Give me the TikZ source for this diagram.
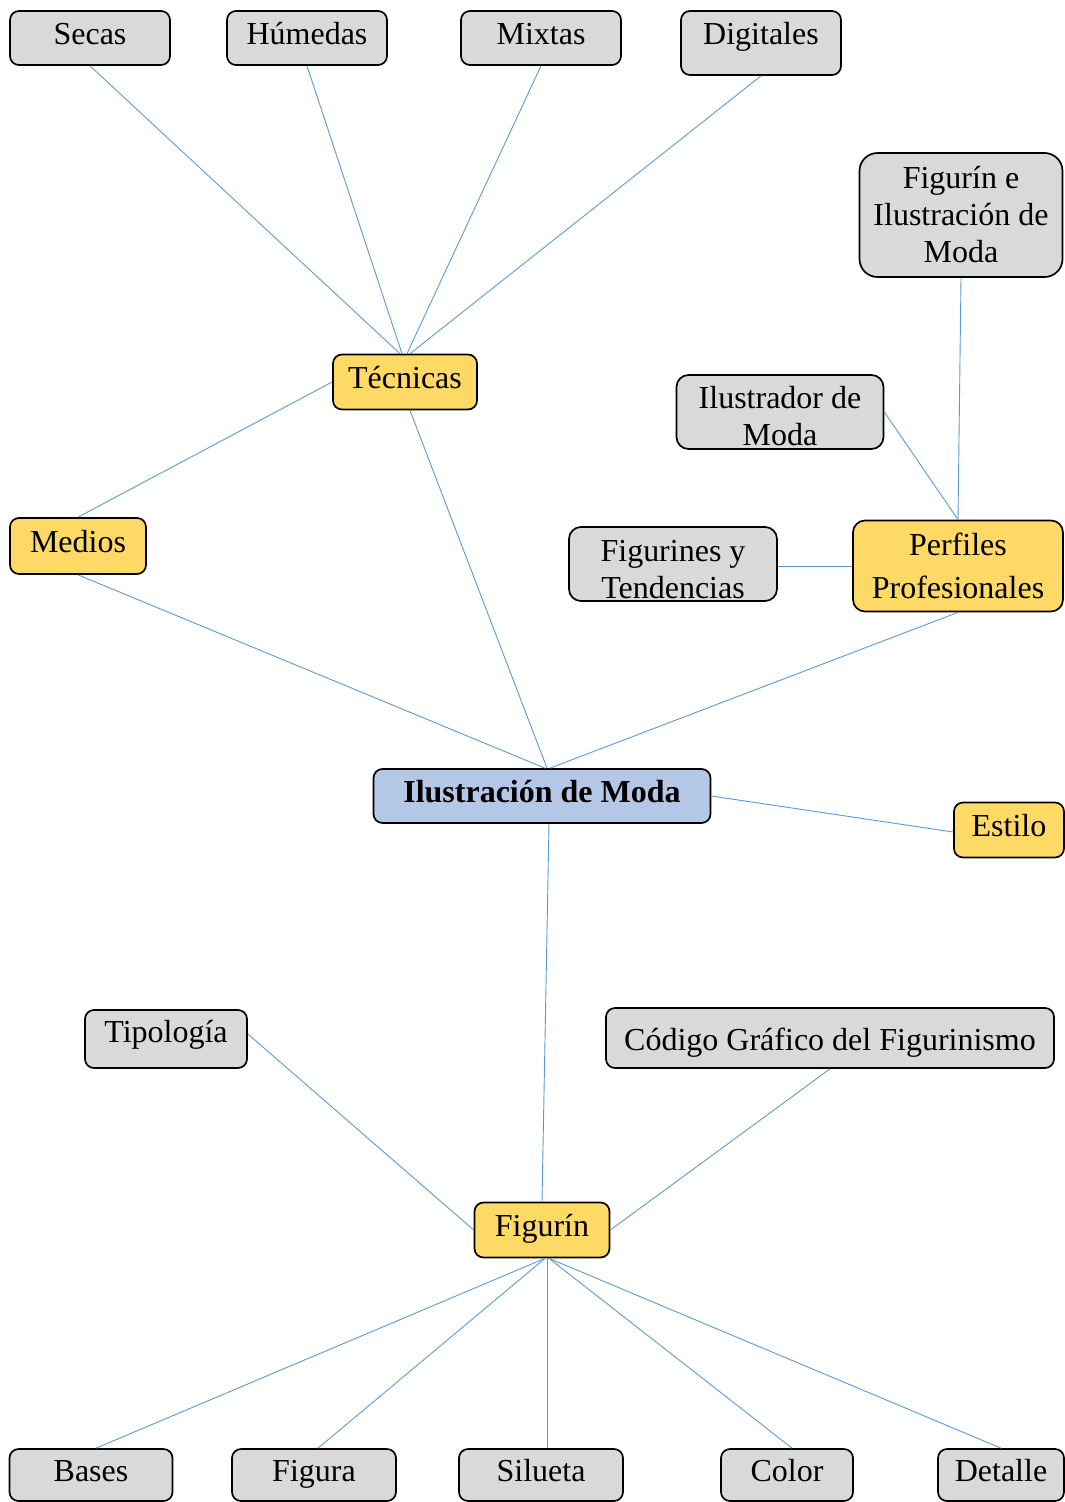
\documentclass[tikz,border=0pt]{standalone}
\usepackage{fontspec}
\setmainfont{Liberation Serif}
\definecolor{cgray}{HTML}{D9D9D9}
\definecolor{cyel}{HTML}{FFD966}
\definecolor{cblue}{HTML}{B4C7E7}
\definecolor{cline}{HTML}{5B9BD5}
\begin{document}
\begin{tikzpicture}[x=1pt,y=-1pt,
  box/.style={draw=black, line width=1.7pt, rounded corners=9pt, inner sep=0pt,
    align=center, font=\fontsize{32}{37}\selectfont, text height=22pt, text depth=10pt},
  multi/.style={text height=, text depth=},
  gbox/.style={box, fill=cgray},
  ybox/.style={box, fill=cyel},
  bbox/.style={box, fill=cblue, font=\fontsize{32}{37}\selectfont\bfseries},
  sz/.style 2 args={minimum width=#1pt, minimum height=#2pt},
  conn/.style={draw=cline, line width=0.9pt}]
\useasboundingbox (0,0) rectangle (1065,1502);
\fill[white] (0,0) rectangle (1065,1502);
% top row
\node[gbox, sz={160}{54}] (sec) at (90,38) {Secas};
\node[gbox, sz={160}{54}] (hum) at (307,38) {Húmedas};
\node[gbox, sz={160}{54}] (mix) at (541,38) {Mixtas};
\node[gbox, sz={160}{64}, text depth=20pt] (dig) at (761,43) {Digitales};
% right cluster
\node[gbox, multi, sz={203}{124}, rounded corners=18pt] (fie) at (961,215) {Figurín e\\Ilustración de\\Moda};
\node[gbox, multi, sz={207}{74}, rounded corners=12pt] (isd) at (780,412) {\rule{0pt}{30pt}Ilustrador de\\Moda};
\node[gbox, multi, sz={208}{74}, rounded corners=12pt] (fyt) at (673,564) {\rule{0pt}{32pt}Figurines y\\Tendencias};
\node[ybox, multi, sz={210}{91}, rounded corners=12pt] (per) at (958,566) {Perfiles\\[6pt]Profesionales};
% left
\node[ybox, sz={144}{55}] (tec) at (405,382) {Técnicas};
\node[ybox, sz={136}{56}] (med) at (78,546) {Medios};
% center
\node[bbox, sz={337}{54}] (ilu) at (542,796) {Ilustración de Moda};
\node[ybox, sz={110}{55}] (est) at (1009,830) {Estilo};
% lower
\node[gbox, sz={162}{58}, text depth=16pt] (tip) at (166,1039) {Tipología};
\node[gbox, sz={448}{60}, text height=28pt, text depth=4pt] (cod) at (830,1038) {Código Gráfico del Figurinismo};
\node[ybox, sz={135}{55}] (fig) at (542,1230) {Figurín};
% bottom row
\node[gbox, sz={163}{52}] (bas) at (91,1475) {Bases};
\node[gbox, sz={164}{52}] (fra) at (314,1475) {Figura};
\node[gbox, sz={164}{52}] (sil) at (541,1475) {Silueta};
\node[gbox, sz={132}{52}] (col) at (787,1475) {Color};
\node[gbox, sz={126}{52}] (det) at (1001,1475) {Detalle};
% connectors
\draw[conn] (sec.south) -- ([xshift=-5pt]tec.north);
\draw[conn] (hum.south) -- ([xshift=-3pt]tec.north);
\draw[conn] (mix.south) -- ([xshift=2pt]tec.north);
\draw[conn] (dig.south) -- ([xshift=5pt]tec.north);
\draw[conn] (tec.west) -- (med.north);
\draw[conn] ([xshift=5pt]tec.south) -- ([xshift=5pt]ilu.north);
\draw[conn] (med.south) -- ([xshift=3pt]ilu.north);
\draw[conn] (per.south) -- ([xshift=8pt]ilu.north);
\draw[conn] (fie.south) -- (per.north);
\draw[conn] (isd.east) -- (per.north);
\draw[conn] ([yshift=-2pt]fyt.east) -- ([yshift=-2pt]fyt.east -| per.west);
\draw[conn] (ilu.east) -- ([yshift=-2pt]est.west);
\draw[conn] ([xshift=7pt]ilu.south) -- (fig.north);
\draw[conn] ([yshift=5pt]tip.east) -- (fig.west);
\draw[conn] (cod.south) -- (fig.east);
\draw[conn] ([xshift=3pt]fig.south) -- ([xshift=5pt]bas.north);
\draw[conn] ([xshift=3pt]fig.south) -- ([xshift=4pt]fra.north);
\draw[conn] ([xshift=5pt]fig.south) -- ([xshift=6pt]sil.north);
\draw[conn] ([xshift=7pt]fig.south) -- ([xshift=5pt]col.north);
\draw[conn] ([xshift=7pt]fig.south) -- (det.north);
\end{tikzpicture}
\end{document}
